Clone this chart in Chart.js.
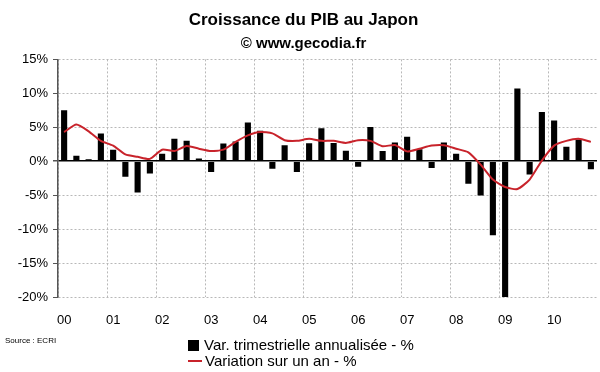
<!DOCTYPE html>
<html>
<head>
<meta charset="utf-8">
<script src="https://cdn.jsdelivr.net/npm/chart.js@4"></script>
<style>
  body { margin: 0; background: #fff; font-family: "Liberation Sans", Arial, sans-serif; }
  #wrap { position: relative; width: 600px; height: 372px; }
  .legend { position: absolute; left: 188px; font-size: 15px; color: #000; }
  .legend div { height: 16px; line-height: 16px; white-space: nowrap; }
  .sq { display: inline-block; width: 11px; height: 11px; background: #000; margin-right: 5px; vertical-align: -1px; }
  .ln { display: inline-block; width: 14px; height: 2px; background: #c8232b; margin-right: 3px; vertical-align: 4px; }
  .source { position: absolute; left: 5px; top: 336px; font-size: 8px; color: #000; }
</style>
</head>
<body>
<div id="wrap">
  <canvas id="pibChart"></canvas>
  <div class="source">Source : ECRI</div>
  <div class="legend" style="top: 337px;">
    <div><span class="sq"></span>Var. trimestrielle annualisée - %</div>
    <div><span class="ln"></span>Variation sur un an - %</div>
  </div>
</div>
<script>
const years = ["00", "01", "02", "03", "04", "05", "06", "07", "08", "09", "10"];
const quarters = years.flatMap(y => ["T1 " + y, "T2 " + y, "T3 " + y, "T4 " + y]);

// var. trimestrielle annualisée (%)
const quarterlyGrowth = [
  7.5, 0.8, 0.3, 4.1,
  1.7, -2.3, -4.6, -1.8,
  1.1, 3.3, 3.0, 0.4,
  -1.6, 2.6, 2.9, 5.7,
  4.5, -1.1, 2.35, -1.6,
  2.65, 4.85, 2.7, 1.55,
  -0.8, 5.05, 1.5, 2.75,
  3.6, 1.75, -1.0, 2.75,
  1.1, -3.3, -5.05, -10.9,
  -20.0, 10.7, -1.95, 7.25,
  6.0, 2.15, 3.2, -1.2
];

// variation sur un an (%)
const yearlyGrowth = [
  4.3, 5.4, 4.4, 3.0,
  2.3, 1.0, 0.65, 0.35,
  1.7, 1.5, 2.25, 1.85,
  1.5, 1.7, 2.85, 3.8,
  4.3, 4.1, 3.1, 3.0,
  3.3, 3.0, 3.0, 2.7,
  3.1, 3.0, 2.2, 2.4,
  1.45, 1.85, 2.3, 2.35,
  1.85, 1.3, -0.5, -2.7,
  -3.8, -4.1, -2.7, 0.1,
  2.3, 3.0, 3.3, 2.85
];

const yTicks = [15, 10, 5, 0, -5, -10, -15, -20];

const ctx = document.getElementById("pibChart").getContext("2d");

new Chart(ctx, {
  data: {
    labels: quarters,
    datasets: [
      {
        type: "line",
        label: "Variation sur un an - %",
        data: yearlyGrowth,
        borderColor: "#c8232b",
        borderWidth: 2,
        pointRadius: 0,
        tension: 0.2,
        order: 0
      },
      {
        type: "bar",
        label: "Var. trimestrielle annualisée - %",
        data: quarterlyGrowth,
        backgroundColor: "#000",
        barPercentage: 0.5,
        categoryPercentage: 1,
        order: 1
      }
    ]
  },
  options: {
    responsive: true,
    maintainAspectRatio: false,
    animation: false,
    layout: {
      padding: { left: 10, right: 3, top: 0, bottom: 45 }
    },
    plugins: {
      legend: { display: false },
      tooltip: { enabled: false },
      title: {
        display: true,
        text: "Croissance du PIB au Japon",
        color: "#000",
        font: { family: "Liberation Sans", size: 17, weight: "bold" },
        padding: { top: 10, bottom: 4 }
      },
      subtitle: {
        display: true,
        text: "© www.gecodia.fr",
        color: "#000",
        font: { family: "Liberation Sans", size: 15, weight: "bold" },
        padding: { top: 0, bottom: 7 }
      }
    },
    scales: {
      x: {
        afterFit: (scale) => {
          scale.height = 30;
          scale.paddingLeft = 0;
          scale.paddingRight = 0;
        },
        ticks: {
          autoSkip: false,
          maxRotation: 0,
          padding: 16,
          color: "#000",
          font: { family: "Liberation Sans", size: 13 },
          callback: (val, i) => (i % 4 === 0 ? years[i / 4] : "")
        },
        grid: {
          offset: true,
          drawTicks: false,
          color: (c) => (c.index % 4 === 0 ? "#b8b8b8" : "transparent")
        },
        border: { display: false, dash: [2, 2] }
      },
      y: {
        min: -20,
        max: 15,
        afterFit: (scale) => { scale.width = 48; },
        afterBuildTicks: (scale) => { scale.ticks = yTicks.map(v => ({ value: v })); },
        ticks: {
          padding: 5,
          color: "#000",
          font: { family: "Liberation Sans", size: 13 },
          callback: (v) => v + "%"
        },
        grid: {
          color: (c) => (c.tick && c.tick.value === 0 ? "#000" : "#b8b8b8"),
          lineWidth: (c) => (c.tick && c.tick.value === 0 ? 1.5 : 1),
          tickColor: "#555",
          tickLength: 5
        },
        border: {
          display: true,
          color: "#555",
          width: 1.5,
          dash: (c) => (c.tick && c.tick.value === 0 ? [] : [2, 2])
        }
      }
    }
  }
});
</script>
</body>
</html>
